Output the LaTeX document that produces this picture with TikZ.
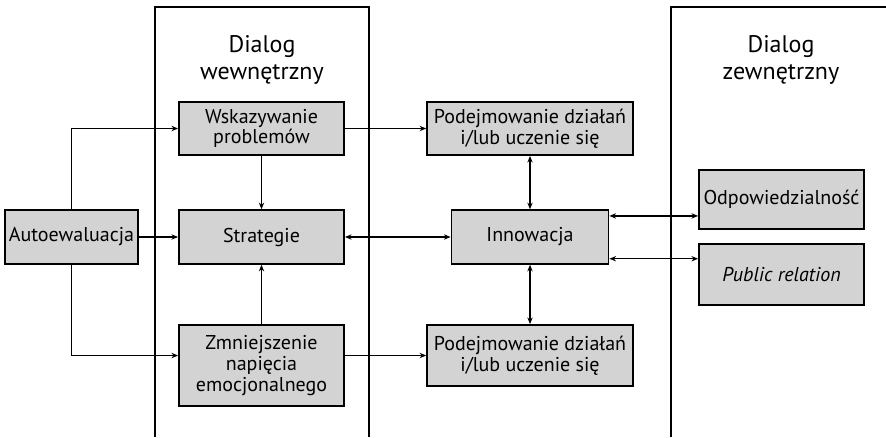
\documentclass[tikz,border=0pt]{standalone}
\usepackage{fontspec}
\setmainfont{PT Sans}
\usetikzlibrary{arrows.meta, positioning, calc}
\definecolor{boxgray}{RGB}{211,211,211}

\begin{document}
\begin{tikzpicture}[
  x=0.75pt, y=-0.75pt,
  blok/.style={rectangle, draw=black, fill=boxgray, line width=1.1pt, align=center,
               inner sep=0pt, minimum width=124pt, minimum height=40pt,
               font=\fontsize{15}{15.5}\selectfont},
  ramka/.style={draw=black, line width=1.1pt},
  naglowek/.style={align=center, font=\fontsize{18}{20.5}\selectfont},
  arrow/.style={-{Stealth[length=5pt,width=4pt]}, line width=0.9pt},
  dbl/.style={{Stealth[length=5pt,width=4pt]}-{Stealth[length=5pt,width=4pt]}, line width=0.9pt},
]
  \useasboundingbox (0,0) rectangle (886,437);

  % ramki dialogu
  \draw[ramka] (155,437) |- (369,7) -- (369,437);
  \draw[ramka] (671,437) |- (886,7);
  \node[naglowek] (wew) at (262,60) {Dialog\\wewnętrzny};
  \node[naglowek] (zew) at (781,60) {Dialog\\zewnętrzny};

  \node[blok, minimum width=100pt, minimum height=40.5pt] (auto) at (71.5,237) {Autoewaluacja};
  \node[blok] (wsk) at (261.5,128.5) {Wskazywanie\\problemów};
  \node[blok, minimum height=40.5pt] (strat) at (261.5,237) {Strategie};
  \node[blok, minimum height=61pt] (zmn) at (261.5,365.5) {Zmniejszenie\\napięcia\\emocjonalnego};

  \node[blok, minimum width=154.5pt] (pod1) at (530,128.5) {Podejmowanie działań\\i/lub uczenie się};
  \node[blok, minimum width=118pt, minimum height=40.5pt] (innow) at (530,237) {Innowacja};
  \node[blok, minimum width=154.5pt, minimum height=46pt] (pod2) at (530,355.5) {Podejmowanie działań\\i/lub uczenie się};

  \node[blok, minimum height=44pt] (odp) at (781.5,199.5) {Odpowiedzialność};
  \node[blok, minimum height=46pt] (pr) at (781.5,274.5) {\textit{Public relation}};

  \draw[arrow] (auto.north) |- (wsk.west);
  \draw[arrow] (auto) -- (strat);
  \draw[arrow] (auto.south) |- (zmn.west |- pod2.west);
  \draw[arrow] (wsk) -- (strat);
  \draw[arrow] (zmn) -- (strat);
  \draw[arrow] (wsk) -- (pod1);
  \draw[arrow] (zmn.east |- pod2.west) -- (pod2.west);

  \draw[dbl] (strat) -- (innow);
  \draw[dbl] (innow) -- (pod1);
  \draw[dbl] (innow) -- (pod2);
  \draw[dbl] ([yshift=-5pt]innow.north east) -- ([yshift=-5pt]innow.north east -| odp.west);
  \draw[dbl] ([yshift=4.5pt]innow.south east) -- ([yshift=4.5pt]innow.south east -| pr.west);
\end{tikzpicture}
\end{document}
